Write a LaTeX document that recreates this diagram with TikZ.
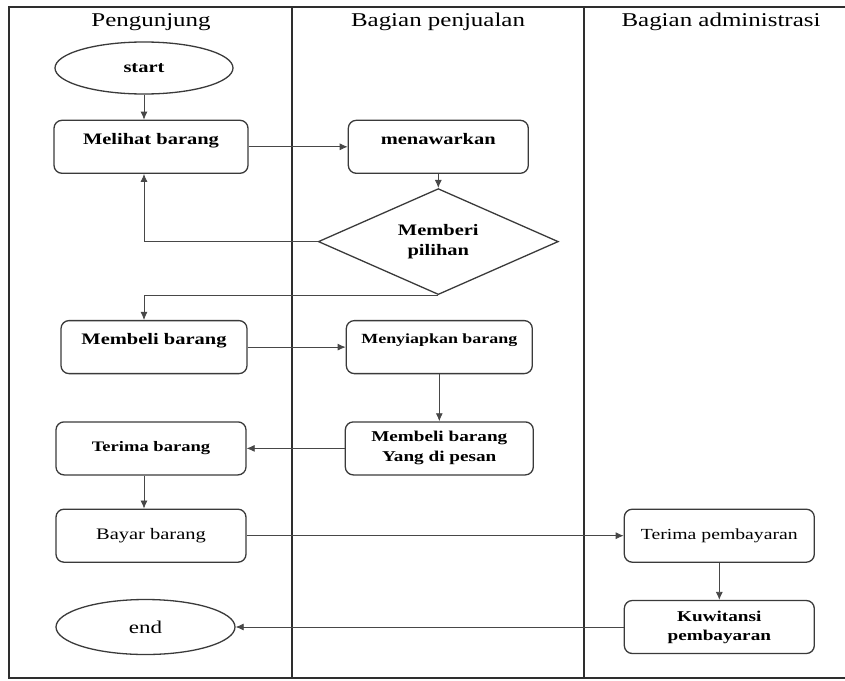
\documentclass[tikz,border=0pt]{standalone}
\usepackage{fontspec}
\setmainfont{Liberation Serif}[FakeStretch=1.28]
\usepackage{tikz}
\usetikzlibrary{arrows.meta,positioning,shapes.geometric}
\definecolor{laneline}{HTML}{2E2E2E}
\definecolor{boxline}{HTML}{3A3A3A}
\newcommand{\fs}[2]{\fontsize{#1}{#2}\selectfont}

\begin{document}
\begin{tikzpicture}[
  x=1pt, y=-1pt,
  node distance=25pt,
  every node/.style={font=\fs{16}{20}\bfseries},
  lanehead/.style={font=\fs{19.5}{23}},
  process/.style={draw=boxline, line width=1.3pt, rounded corners=8pt,
                  minimum width=190pt, minimum height=53pt, inner sep=2pt, align=center},
  raised/.style={text depth=16pt},
  terminal/.style={ellipse, draw=boxline, line width=1.3pt,
                   minimum width=178pt, minimum height=52pt, inner sep=0pt},
  decision/.style={diamond, draw=boxline, line width=1.3pt, aspect=2.26,
                   minimum width=240pt, minimum height=106pt, inner sep=0pt, align=center},
  arrow/.style={-{Latex[length=8pt,width=7pt]}, line width=0.8pt, draw=black!72}
]
\useasboundingbox (0,0) rectangle (845,680);
\draw[laneline, line width=1.3pt] (845,7) -| (9,678) -- (845,678);
\draw[laneline, line width=1.3pt] (292,7) -- (292,678);
\draw[laneline, line width=1.3pt] (584,7) -- (584,678);

\node[lanehead] (hpeng) at (151,22) {Pengunjung};
\node[lanehead] (hjual) at (438,22) {Bagian penjualan};
\node[lanehead] (hadmin) at (721,22) {Bagian administrasi};

\node[terminal] (start) at (144,68) {start};
\node[process, raised, below=25pt of start, xshift=7pt, minimum width=194pt] (melihat) {Melihat barang};
\node[process, raised, right=99pt of melihat, minimum width=180pt] (tawar) {menawarkan};
\node[decision, below=14pt of tawar] (pilih) {Memberi\\pilihan};
\node[process, raised, below=146pt of melihat, xshift=3pt, minimum width=186pt] (beli) {Membeli barang};
\node[process, raised, right=98pt of beli, minimum width=186pt, font=\fs{14}{18}\bfseries] (siap) {Menyiapkan barang};
\node[process, below=47pt of siap, minimum width=188pt, font=\fs{15}{20}\bfseries] (pesan) {Membeli barang\\Yang di pesan};
\node[process, left=98pt of pesan, font=\fs{14.5}{18}\bfseries] (terima) {Terima barang};
\node[process, below=33pt of terima, font=\fs{16}{20}] (bayar) {Bayar barang};
\node[process, right=377pt of bayar, font=\fs{15.4}{19}] (tbayar) {Terima pembayaran};
\node[process, below=37pt of tbayar, font=\fs{15}{19}\bfseries] (kwit) {Kuwitansi\\pembayaran};
\node[terminal, left=388pt of kwit, minimum width=179pt, minimum height=55pt, font=\fs{18}{20}] (finish) {end};

\draw[arrow] (start.south) -- (start.south |- melihat.north);
\draw[arrow] (melihat) -- (tawar);
\draw[arrow] (tawar) -- (pilih);
\draw[arrow] (pilih.west) -| (start.south |- melihat.south);
\draw[arrow] (pilih.south) -| (start.south |- beli.north);
\draw[arrow] (beli) -- (siap);
\draw[arrow] (siap) -- (pesan);
\draw[arrow] (pesan) -- (terima);
\draw[arrow] (start.south |- terima.south) -- (start.south |- bayar.north);
\draw[arrow] (bayar) -- (tbayar);
\draw[arrow] (tbayar) -- (kwit);
\draw[arrow] (kwit) -- (finish);
\end{tikzpicture}
\end{document}
